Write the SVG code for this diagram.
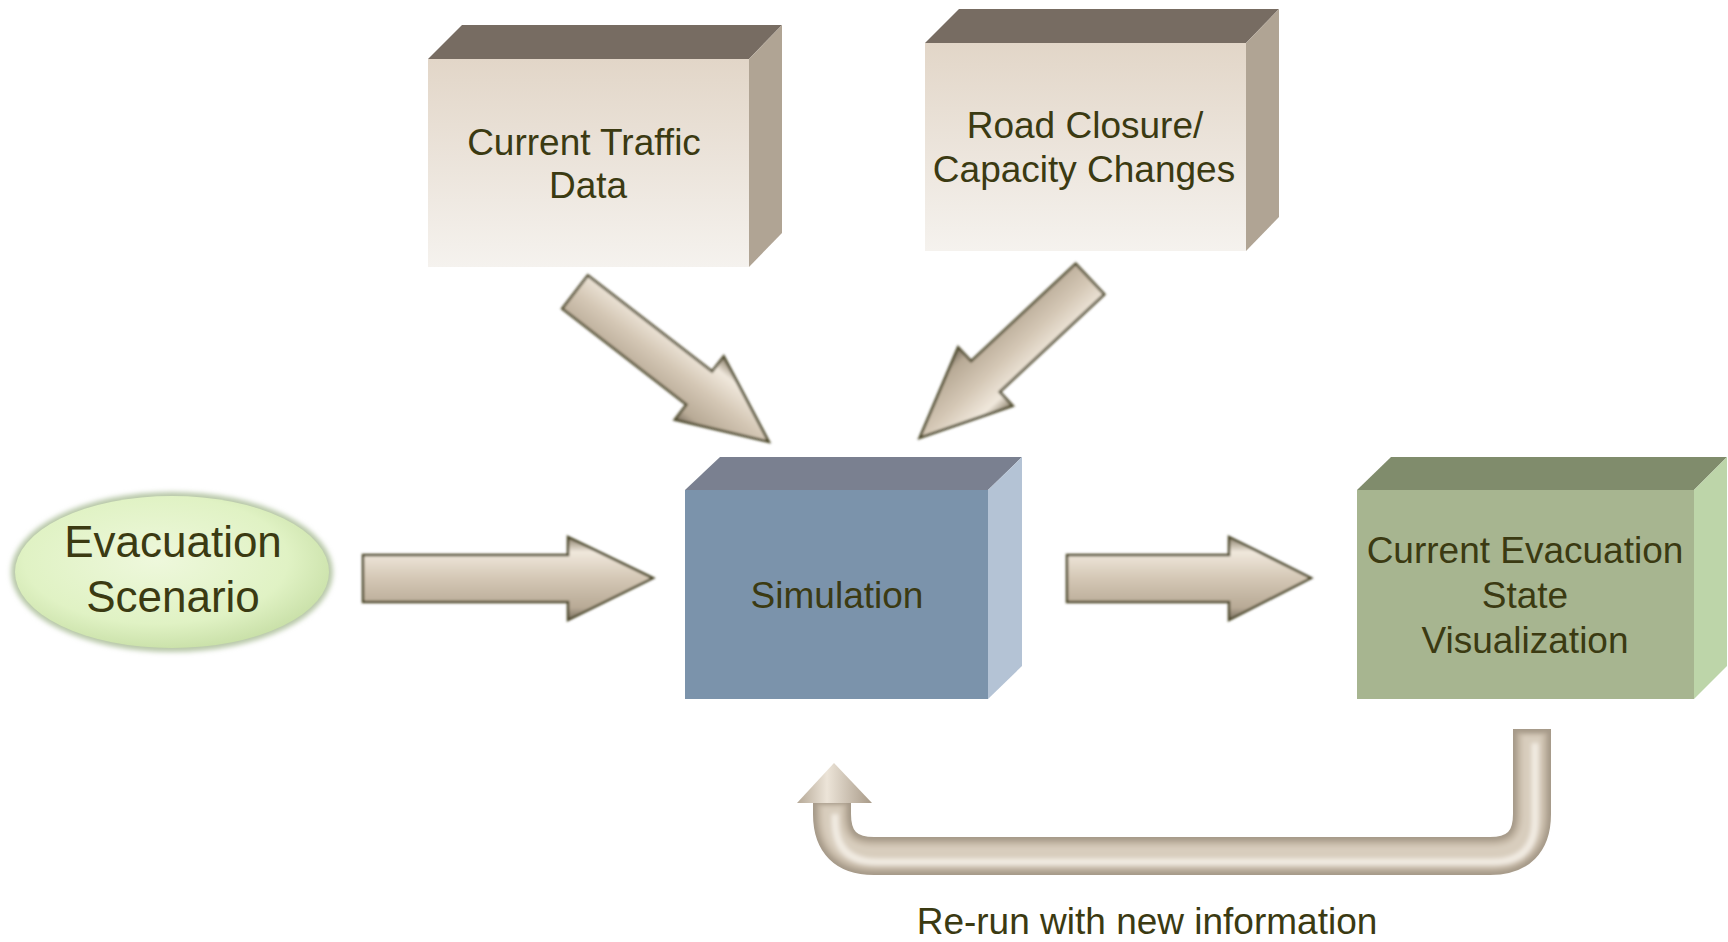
<svg xmlns="http://www.w3.org/2000/svg" width="1728" height="942" viewBox="0 0 1728 942">
<style>
.t{font-family:"Liberation Sans",Arial,sans-serif;font-size:37px;fill:#3b3a12;text-anchor:middle}
.big{font-size:44px}
.arr{stroke:#4d4a2a;stroke-width:2.5;stroke-linejoin:miter}
</style>
<defs>
<linearGradient id="gBeige" x1="0" y1="0" x2="0" y2="1">
<stop offset="0" stop-color="#e2d6c8"/>
<stop offset="1" stop-color="#f5f2ee"/>
</linearGradient>
<linearGradient id="gArrow" x1="0" y1="0" x2="0" y2="1">
<stop offset="0" stop-color="#8a7f6a"/>
<stop offset="0.18" stop-color="#f0e8dc"/>
<stop offset="0.5" stop-color="#d4c7b5"/>
<stop offset="0.85" stop-color="#b8aa96"/>
<stop offset="1" stop-color="#7a7060"/>
</linearGradient>
<linearGradient id="gHead" x1="0" y1="0" x2="1" y2="0">
<stop offset="0" stop-color="#b5a896"/>
<stop offset="0.4" stop-color="#ece4d8"/>
<stop offset="1" stop-color="#a89a88"/>
</linearGradient>
<radialGradient id="gEll" cx="0.45" cy="0.42" r="0.6">
<stop offset="0" stop-color="#eef8dc"/>
<stop offset="0.7" stop-color="#e0f2c4"/>
<stop offset="1" stop-color="#c9e0a8"/>
</radialGradient>
<filter id="soft" x="-10%" y="-10%" width="120%" height="120%">
<feGaussianBlur stdDeviation="2.5"/>
</filter>
<filter id="soft1" x="-10%" y="-10%" width="120%" height="120%">
<feGaussianBlur stdDeviation="0.8"/>
</filter>
<filter id="soft2" x="-5%" y="-20%" width="110%" height="140%">
<feGaussianBlur stdDeviation="2"/>
</filter>
</defs>
<rect width="1728" height="942" fill="#ffffff"/>

<g id="traffic">
<polygon points="428,59 462,25 782,25 749,59" fill="#776c62"/>
<polygon points="749,59 782,25 782,233 749,267" fill="#b0a494"/>
<rect x="428" y="59" width="321" height="208" fill="url(#gBeige)"/>
<text class="t" x="584" y="155">Current Traffic</text>
<text class="t" x="588" y="198">Data</text>
</g>

<g id="road">
<polygon points="925,43 959,9 1279,9 1246,43" fill="#776c62"/>
<polygon points="1246,43 1279,9 1279,217 1246,251" fill="#b0a494"/>
<rect x="925" y="43" width="321" height="208" fill="url(#gBeige)"/>
<text class="t" x="1085" y="138">Road Closure/</text>
<text class="t" x="1084" y="182">Capacity Changes</text>
</g>

<g id="simulation">
<polygon points="685,490 720,457 1022,457 988,490" fill="#7a8090"/>
<polygon points="988,490 1022,457 1022,666 988,699" fill="#b4c3d5"/>
<rect x="685" y="490" width="303" height="209" fill="#7b93ab"/>
<text class="t" x="837" y="608">Simulation</text>
</g>

<g id="visualization">
<polygon points="1357,490 1391,457 1727,457 1694,490" fill="#808c6c"/>
<polygon points="1694,490 1727,457 1727,666 1694,699" fill="#bdd5a9"/>
<rect x="1357" y="490" width="337" height="209" fill="#a7b590"/>
<text class="t" x="1525" y="563">Current Evacuation</text>
<text class="t" x="1525" y="608">State</text>
<text class="t" x="1525" y="653">Visualization</text>
</g>

<g id="scenario">
<ellipse cx="172" cy="572" rx="161" ry="80" fill="#b8c8a8" filter="url(#soft)"/>
<ellipse cx="172" cy="572" rx="157" ry="76" fill="url(#gEll)"/>
<text class="t big" x="173" y="557">Evacuation</text>
<text class="t big" x="173" y="612">Scenario</text>
</g>

<g id="connectors">
<polygon class="arr" points="363,555 568,555 568,537 653,578 568,620 568,602 363,602" fill="url(#gArrow)" filter="url(#soft1)"/>
<polygon class="arr" points="1067,555 1229,555 1229,537 1311,578 1229,620 1229,602 1067,602" fill="url(#gArrow)" filter="url(#soft1)"/>
<polygon class="arr" transform="translate(575,292) rotate(37.7)" points="0,-21 157,-21 157,-40 245,0 157,40 157,21 0,21" fill="url(#gArrow)" filter="url(#soft1)"/>
<polygon class="arr" transform="translate(1090,279) rotate(137)" points="0,-21 143,-21 143,-40 233,0 143,40 143,21 0,21" fill="url(#gArrow)" filter="url(#soft1)"/>
<g fill="none" stroke-linecap="butt">
<path d="M1532,729 V814 Q1532,856 1490,856 H874 Q832,856 832,814 V800" stroke="#a69a89" stroke-width="38"/>
<g filter="url(#soft2)">
<path d="M1532,733 V814 Q1532,856 1490,856 H874 Q832,856 832,814 V804" stroke="#c6b9a7" stroke-width="30"/>
<path d="M1532,735 V814 Q1532,856 1490,856 H874 Q832,856 832,814 V806" stroke="#d8cdbd" stroke-width="20"/>
<path d="M1532,737 V814 Q1532,856 1490,856 H874 Q832,856 832,814 V808" stroke="#f1ebe2" stroke-width="7" transform="translate(3,6)"/>
</g>
</g>
<polygon points="797,803 834,763 872,803" fill="url(#gHead)"/>
<text class="t" x="1147" y="934">Re-run with new information</text>
</g>
</svg>
